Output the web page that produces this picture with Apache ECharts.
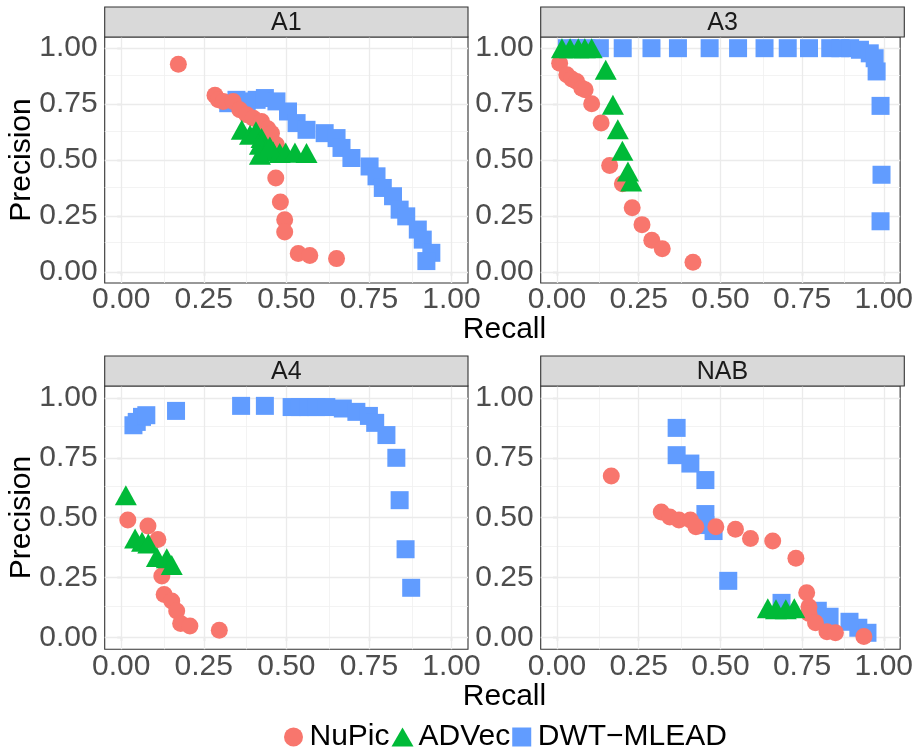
<!DOCTYPE html>
<html><head><meta charset="utf-8">
<script src="https://cdn.jsdelivr.net/npm/echarts@6/dist/echarts.min.js"></script>
<style>html,body{margin:0;padding:0;background:#fff}#c{width:916px;height:755px}</style>
</head><body><div id="c"></div>
<script>
// ---------- data ----------
const panelNames = ['A1', 'A3', 'A4', 'NAB'];
const methodNames = ['NuPic', 'ADVec', 'DWT−MLEAD'];
const tickValues = [0, 0.25, 0.5, 0.75, 1];
const minorValues = [0.125, 0.375, 0.625, 0.875];

const a1NupicX = [0.173,0.284,0.294,0.309,0.339,0.359,0.380,0.400,0.425,0.444,0.455,0.470,0.468,0.482,0.495,0.495,0.536,0.571,0.652];
const a1NupicY = [0.928,0.790,0.769,0.762,0.762,0.725,0.702,0.687,0.672,0.640,0.620,0.568,0.420,0.312,0.233,0.178,0.082,0.073,0.059];
const a1AdvecX = [0.365,0.390,0.408,0.425,0.420,0.440,0.460,0.480,0.498,0.526,0.561,0.420,0.450];
const a1AdvecY = [0.635,0.613,0.628,0.598,0.568,0.546,0.538,0.531,0.534,0.534,0.531,0.524,0.560];
const a1DwtX = [0.324,0.349,0.380,0.410,0.435,0.470,0.505,0.531,0.561,0.616,0.652,0.667,0.697,0.752,0.773,0.792,0.823,0.843,0.863,0.898,0.913,0.939,0.924];
const a1DwtY = [0.754,0.769,0.762,0.769,0.777,0.762,0.717,0.665,0.635,0.620,0.598,0.554,0.509,0.471,0.427,0.375,0.338,0.278,0.248,0.189,0.144,0.085,0.048];

const a3NupicX = [0.008,0.030,0.045,0.060,0.076,0.086,0.106,0.135,0.161,0.200,0.230,0.260,0.290,0.322,0.416];
const a3NupicY = [0.933,0.881,0.862,0.851,0.821,0.814,0.752,0.666,0.475,0.394,0.286,0.211,0.141,0.103,0.043];
const a3AdvecX = [0.015,0.040,0.065,0.085,0.106,0.149,0.171,0.186,0.200,0.217,0.227];
const a3AdvecY = [1.000,1.000,1.000,1.000,1.000,0.903,0.747,0.638,0.541,0.449,0.404];
const a3DwtX = [0.030,0.060,0.090,0.131,0.201,0.289,0.370,0.467,0.554,0.635,0.706,0.771,0.836,0.867,0.897,0.927,0.957,0.972,0.978,0.990,0.993,0.990];
const a3DwtY = [1.000,1.000,1.000,1.000,1.000,1.000,1.000,1.000,1.000,1.000,1.000,1.000,1.000,1.000,1.000,0.993,0.977,0.955,0.896,0.742,0.434,0.226];

const a4NupicX = [0.020,0.081,0.111,0.123,0.130,0.153,0.168,0.180,0.208,0.297];
const a4NupicY = [0.490,0.465,0.409,0.256,0.179,0.152,0.110,0.058,0.047,0.030];
const a4AdvecX = [0.014,0.042,0.063,0.082,0.108,0.138,0.153];
const a4AdvecY = [0.594,0.413,0.399,0.392,0.336,0.330,0.302];
const a4DwtX = [0.037,0.047,0.063,0.076,0.166,0.363,0.435,0.516,0.541,0.566,0.591,0.621,0.671,0.712,0.750,0.769,0.803,0.833,0.843,0.861,0.878];
const a4DwtY = [0.886,0.900,0.921,0.928,0.946,0.967,0.967,0.962,0.962,0.962,0.962,0.962,0.956,0.942,0.925,0.896,0.845,0.750,0.573,0.368,0.207];

const nabNupicX = [0.166,0.319,0.345,0.373,0.408,0.425,0.486,0.546,0.592,0.660,0.731,0.764,0.771,0.771,0.791,0.826,0.852,0.939];
const nabNupicY = [0.674,0.524,0.503,0.490,0.490,0.462,0.462,0.452,0.413,0.402,0.330,0.186,0.128,0.100,0.061,0.023,0.019,0.003];
const nabAdvecX = [0.645,0.670,0.700,0.726];
const nabAdvecY = [0.121,0.117,0.117,0.121];
const nabDwtX = [0.366,0.366,0.408,0.454,0.454,0.454,0.479,0.524,0.687,0.798,0.834,0.895,0.922,0.950];
const nabDwtY = [0.875,0.761,0.726,0.657,0.515,0.469,0.444,0.236,0.144,0.111,0.086,0.065,0.040,0.019];

// ---------- build ----------
const panelData = [
  [[a1NupicX, a1NupicY], [a1AdvecX, a1AdvecY], [a1DwtX, a1DwtY]],
  [[a3NupicX, a3NupicY], [a3AdvecX, a3AdvecY], [a3DwtX, a3DwtY]],
  [[a4NupicX, a4NupicY], [a4AdvecX, a4AdvecY], [a4DwtX, a4DwtY]],
  [[nabNupicX, nabNupicY], [nabAdvecX, nabAdvecY], [nabDwtX, nabDwtY]]
];
const zip = (xs, ys) => xs.map((x, i) => [x, ys[i]]);

const FONT = 'Liberation Sans, Arial, Helvetica, sans-serif';
const colors = ['#F8766D', '#00BA38', '#619CFF'];
const symbols = ['circle', 'triangle', 'rect'];
const sizes = [17, [22, 20], 18];
const drawOrder = [2, 0, 1];

const layout = [
  {left: 104.7, top: 37, width: 363.3, height: 246},
  {left: 540.7, top: 37, width: 363.6, height: 246},
  {left: 104.7, top: 386, width: 363.3, height: 263.3},
  {left: 540.7, top: 386, width: 363.6, height: 263.3}
];

const grids = [], xAxes = [], yAxes = [], series = [], graphics = [];
layout.forEach((g, p) => {
  grids.push({left: g.left, top: g.top, width: g.width, height: g.height, show: true,
    borderColor: '#333333', borderWidth: 1.1, backgroundColor: 'transparent', containLabel: false});
  const axisBase = {
    type: 'value', gridIndex: p, min: -0.05, max: 1.05,
    axisLine: {show: false},
    splitLine: {show: false},
    axisTick: {show: true, length: 4, customValues: tickValues, lineStyle: {color: '#333333', width: 1.1}},
  };
  xAxes.push(Object.assign({}, axisBase, {
    axisLabel: {customValues: tickValues, margin: 2, fontSize: 30, color: '#4D4D4D', fontFamily: FONT,
      formatter: v => v.toFixed(2)}
  }));
  yAxes.push(Object.assign({}, axisBase, {
    axisLabel: {customValues: tickValues, margin: 7, fontSize: 30, color: '#4D4D4D', fontFamily: FONT,
      formatter: v => v.toFixed(2)}
  }));
  // gridlines through the axis scales
  const lines = [];
  minorValues.forEach(v => {
    lines.push({xAxis: v, lineStyle: {color: '#F0F0F0', width: 0.8, type: 'solid'}});
    lines.push({yAxis: v, lineStyle: {color: '#F0F0F0', width: 0.8, type: 'solid'}});
  });
  tickValues.forEach(v => {
    lines.push({xAxis: v, lineStyle: {color: '#EBEBEB', width: 1.3, type: 'solid'}});
    lines.push({yAxis: v, lineStyle: {color: '#EBEBEB', width: 1.3, type: 'solid'}});
  });
  series.push({
    name: '_grid' + p, type: 'scatter', xAxisIndex: p, yAxisIndex: p, data: [], z: 1, silent: true,
    markLine: {z: 1, silent: true, symbol: ['none', 'none'], label: {show: false}, animation: false,
      emphasis: {disabled: true}, data: lines}
  });
  drawOrder.forEach((m, k) => {
    const [xs, ys] = panelData[p][m];
    series.push({
      name: methodNames[m], type: 'scatter', xAxisIndex: p, yAxisIndex: p, z: 3 + k,
      symbol: symbols[m], symbolSize: sizes[m], clip: false,
      itemStyle: {color: colors[m], opacity: 1},
      emphasis: {disabled: true}, silent: true,
      data: zip(xs, ys)
    });
  });
  // facet strip
  graphics.push({type: 'rect', shape: {x: g.left, y: g.top - 30, width: g.width, height: 30},
    style: {fill: '#D9D9D9', stroke: '#333333', lineWidth: 1.1}, z: 10, silent: true});
  graphics.push({type: 'text', x: g.left + g.width / 2, y: g.top - 15 + 1,
    style: {text: panelNames[p], font: '25px ' + FONT, fill: '#1A1A1A', textAlign: 'center', textVerticalAlign: 'middle'},
    z: 11, silent: true});
});

// axis titles
[160, 517.5].forEach(cy => {
  graphics.push({type: 'text', x: 22, y: cy, rotation: Math.PI / 2,
    style: {text: 'Precision', font: '30px ' + FONT, fill: '#000000', textAlign: 'center', textVerticalAlign: 'middle'},
    silent: true});
});
[330, 697].forEach(cy => {
  graphics.push({type: 'text', x: 504.5, y: cy,
    style: {text: 'Recall', font: '30px ' + FONT, fill: '#000000', textAlign: 'center', textVerticalAlign: 'middle'},
    silent: true});
});

const chart = echarts.init(document.getElementById('c'), null, {renderer: 'canvas'});
chart.setOption({
  animation: false,
  backgroundColor: '#ffffff',
  grid: grids, xAxis: xAxes, yAxis: yAxes, series: series,
  legend: {
    data: [
      {name: 'NuPic', icon: 'circle'},
      {name: 'ADVec', icon: 'triangle'},
      {name: 'DWT−MLEAD', icon: 'path://M0,0L10,0L10,10L0,10Z'}
    ],
    left: 284, top: 722, padding: 0, itemWidth: 22, itemHeight: 19, itemGap: 2,
    selectedMode: false,
    textStyle: {fontSize: 30, color: '#000000', fontFamily: FONT}
  },
  graphic: graphics
});
</script>
</body></html>
